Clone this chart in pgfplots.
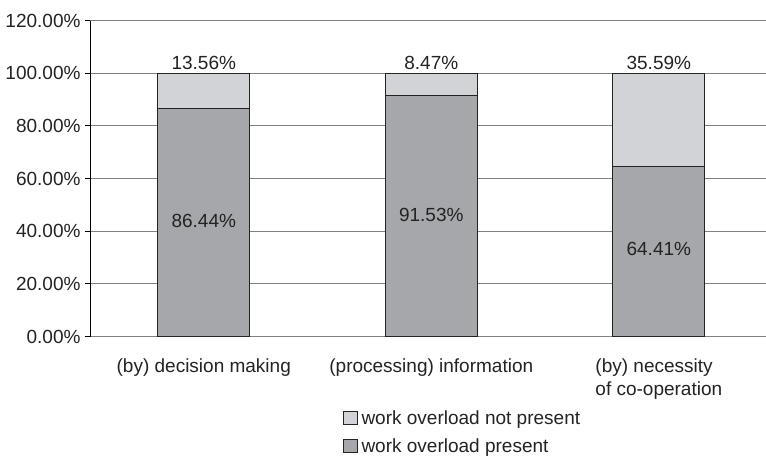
\documentclass[border=0pt]{standalone}
\usepackage{pgfplots}
\pgfplotsset{compat=1.18}
\usepackage{fontspec}
\setmainfont{Liberation Sans}

\definecolor{presentgray}{RGB}{166,167,171}
\definecolor{absentgray}{RGB}{210,211,214}
\definecolor{gridgray}{RGB}{128,128,128}
\definecolor{inkgray}{RGB}{35,35,35}

% shared geometry for the bar axis and the label overlay
\pgfplotsset{
  overloadaxis/.style={
    scale only axis, width=676bp, height=316bp,
    at={(90bp,-336.5bp)}, anchor=south west,
    xmin=-0.5, xmax=2.471, ymin=0, ymax=120,
  },
}

\begin{document}
\begin{tikzpicture}[font=\fontsize{19bp}{23bp}\selectfont, text=inkgray]
\path[use as bounding box] (0,0) rectangle (766bp,-461bp);

\begin{axis}[overloadaxis,
  ybar stacked, bar width=0.404,
  axis x line*=bottom, axis y line*=left,
  x axis line style={draw=none},
  y axis line style={black, line width=0.9bp},
  ymajorgrids, grid style={gridgray, line width=0.9bp},
  ytick={0,20,...,120},
  yticklabels={0.00\%,20.00\%,40.00\%,60.00\%,80.00\%,100.00\%,120.00\%},
  ytick style={black, line width=0.9bp},
  tick align=outside, major tick length=5bp,
  xtick=data, xtick style={draw=none},
  xticklabels={(by) decision making,(processing) information,{(by) necessity\\of co-operation}},
  xticklabel style={align=left, anchor=north, yshift=-14bp},
  yticklabel style={anchor=east, xshift=-1bp},
  reverse legend,
  legend cell align=left,
  legend style={at={(0.3743,-0.228)}, anchor=north west, draw=none, fill=none,
    inner sep=0pt, row sep=10bp,
    nodes={inner sep=1.5bp, text=inkgray}},
  legend image code/.code={\draw[#1, draw=inkgray, line width=0.8bp] (0bp,-6.5bp) rectangle (14bp,6.5bp);},
]
\addplot[fill=presentgray, draw=inkgray, line width=0.9bp]
  coordinates {(0,86.44) (1,91.53) (2,64.41)};
\addplot[fill=absentgray, draw=inkgray, line width=0.9bp]
  coordinates {(0,13.56) (1,8.47) (2,35.59)};
\legend{\hspace{2bp}work overload present, \hspace{2bp}work overload not present}
\end{axis}

% value labels: centred in the lower segments, above the bar tops
\begin{axis}[overloadaxis, hide axis]
\addplot[draw=none, nodes near coords, point meta=explicit symbolic,
  every node near coord/.append style={anchor=center, text=inkgray}]
  coordinates {(0,44.0)[86.44\%] (1,46.3)[91.53\%] (2,33.2)[64.41\%]};
\addplot[draw=none, nodes near coords, point meta=explicit symbolic,
  every node near coord/.append style={anchor=south, text=inkgray, yshift=0bp}]
  coordinates {(0,100)[13.56\%] (1,100)[8.47\%] (2,100)[35.59\%]};
\end{axis}
\end{tikzpicture}
\end{document}
